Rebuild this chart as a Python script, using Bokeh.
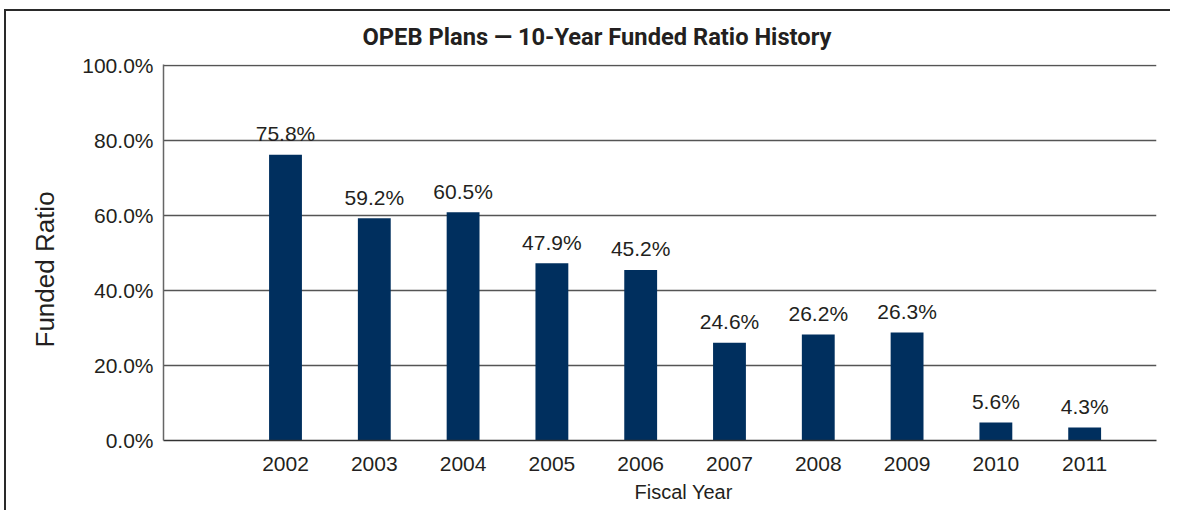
from bokeh.plotting import figure
from bokeh.models import Range1d, FixedTicker, PrintfTickFormatter, ColumnDataSource, Title
from bokeh.core.properties import value
from bokeh.embed import file_html
from bokeh.resources import INLINE

# ---- data ----
years = ["2002", "2003", "2004", "2005", "2006", "2007", "2008", "2009", "2010", "2011"]
ratios = [76.2, 59.3, 60.9, 47.3, 45.5, 26.1, 28.3, 28.8, 4.8, 3.5]
value_labels = ["75.8%", "59.2%", "60.5%", "47.9%", "45.2%", "24.6%", "26.2%", "26.3%", "5.6%", "4.3%"]
y_ticks = [0, 20, 40, 60, 80, 100]

TEXT = "#231f20"
BAR = "#002f5e"
SANS = "'Liberation Sans', Arial, sans-serif"
TITLE_FONT = "Roboto, 'Liberation Sans', sans-serif"

W, H = 1166, 501

idx = list(range(len(years)))
src = ColumnDataSource(dict(x=idx, top=ratios, label=value_labels))

p = figure(width=W, height=H, output_backend="svg", toolbar_location=None,
           x_range=Range1d(-1.374, 9.809), y_range=Range1d(0, 100.3),
           min_border_left=157, min_border_right=W - 1150, min_border_top=52, min_border_bottom=72,
           title="OPEB Plans — 10-Year Funded Ratio History")
p.styles = {"box-shadow": "-2px -2px 0 0 #2a2a2a", "overflow": "hidden",
            "margin-left": "6px", "margin-top": "11px"}
p.outline_line_color = None
p.background_fill_color = "white"
p.border_fill_color = "white"

p.title.text_font = TITLE_FONT
p.title.text_font_style = "bold"
p.title.text_font_size = "23.7px"
p.title.text_color = TEXT
p.title.align = "left"
p.title.offset = 199
p.title.vertical_align = "top"
p.title.standoff = 23

# grid
p.xgrid.grid_line_color = None
p.ygrid.ticker = FixedTicker(ticks=y_ticks)
p.ygrid.grid_line_color = "#555555"
p.ygrid.grid_line_width = 1.3

# y axis
p.yaxis.ticker = FixedTicker(ticks=y_ticks)
p.yaxis.formatter = PrintfTickFormatter(format="%.1f%%")
p.yaxis.major_tick_line_color = None
p.yaxis.minor_tick_line_color = None
p.yaxis.major_tick_out = 0
p.yaxis.major_tick_in = 0
p.yaxis.minor_tick_out = 0
p.yaxis.axis_line_color = "#666666"
p.yaxis.axis_line_width = 1.5
p.yaxis.major_label_text_font = SANS
p.yaxis.major_label_text_font_size = "21px"
p.yaxis.major_label_text_color = TEXT
p.yaxis.major_label_standoff = 10

# x axis
p.xaxis.ticker = FixedTicker(ticks=idx)
p.xaxis.major_label_overrides = {i: y for i, y in zip(idx, years)}
p.xaxis.major_tick_line_color = None
p.xaxis.minor_tick_line_color = None
p.xaxis.major_tick_out = 0
p.xaxis.major_tick_in = 0
p.xaxis.minor_tick_out = 0
p.xaxis.axis_line_color = "#333333"
p.xaxis.axis_line_width = 1.5
p.xaxis.major_label_text_font = SANS
p.xaxis.major_label_text_font_size = "21px"
p.xaxis.major_label_text_color = TEXT
p.xaxis.major_label_standoff = 16

# axis titles as side-panel titles (off-centre, as in the reference)
p.add_layout(Title(text="Funded Ratio", align="left", offset=93, vertical_align="top",
                   standoff=36, text_font=SANS, text_font_style="normal",
                   text_font_size="26px", text_color=TEXT), "left")
p.add_layout(Title(text="Fiscal Year", align="left", offset=471, vertical_align="bottom",
                   standoff=11, text_font=SANS, text_font_style="normal",
                   text_font_size="20px", text_color=TEXT), "below")

p.vbar(x="x", top="top", bottom=0, width=0.37, source=src,
       fill_color=BAR, line_color=None)
p.text(x="x", y="top", text="label", source=src,
       text_align="center", text_baseline="alphabetic", y_offset=-21,
       text_font=value(SANS), text_font_size="21px", text_color=TEXT)

open("out.html", "w").write(file_html(p, INLINE))
